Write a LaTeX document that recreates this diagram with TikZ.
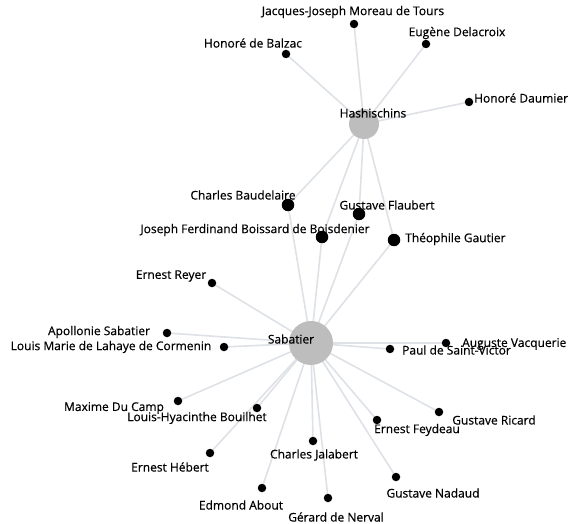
\documentclass[tikz,border=0pt]{standalone}
\usepackage{fontspec}
\setmainfont{Open Sans}
\newfontfamily\labelfont{Open Sans}[FakeBold=0.5]
\usepackage{tikz}
\usetikzlibrary{backgrounds}

\definecolor{linkgray}{HTML}{DEE1E6}
\definecolor{hubgray}{HTML}{BDBDBD}

\begin{document}
\begin{tikzpicture}[
        x=1pt, y=-1pt,
        hub/.style={circle, fill=hubgray, inner sep=0pt},
        person/.style={circle, fill=black, inner sep=0pt, minimum size=8.5pt},
        bigperson/.style={circle, fill=black, inner sep=0pt, minimum size=12.5pt},
        lbl/.style={inner sep=0pt, font=\labelfont\fontsize{12}{13}\selectfont},
        link/.style={draw=linkgray, line width=1.6pt}
    ]
        \useasboundingbox (0,0) rectangle (568,524);

        % grupy
        \node[hub, minimum size=30pt] (hash) at (364,124) {};
        \node[lbl] (hash-l) at (373,113) {Hashischins};
        \node[hub, minimum size=44pt] (sab) at (311,343) {};
        \node[lbl] (sab-l) at (291,339) {Sabatier};

        % tylko Hashischins
        \node[person] (moreau) at (354,24) {};
        \node[lbl] (moreau-l) at (353,12) {Jacques-Joseph Moreau de Tours};
        \node[person] (balzac) at (286,54) {};
        \node[lbl] (balzac-l) at (253,43) {Honoré de Balzac};
        \node[person] (delacroix) at (426,44) {};
        \node[lbl] (delacroix-l) at (457,33) {Eugène Delacroix};
        \node[person] (daumier) at (469,102) {};
        \node[lbl, anchor=west] (daumier-l) at (474,98) {Honoré Daumier};

        % obie grupy
        \node[bigperson] (baudelaire) at (288,205) {};
        \node[lbl] (baudelaire-l) at (243,195) {Charles Baudelaire};
        \node[bigperson] (flaubert) at (359,214) {};
        \node[lbl] (flaubert-l) at (387,205) {Gustave Flaubert};
        \node[bigperson] (boissard) at (322,237) {};
        \node[lbl] (boissard-l) at (255,230) {Joseph Ferdinand Boissard de Boisdenier};
        \node[bigperson] (gautier) at (394,240) {};
        \node[lbl, anchor=west] (gautier-l) at (405,239) {Théophile Gautier};

        % tylko Sabatier
        \node[person] (reyer) at (212,283) {};
        \node[lbl] (reyer-l) at (171,276) {Ernest Reyer};
        \node[person] (apollonie) at (167,333) {};
        \node[lbl] (apollonie-l) at (99,332) {Apollonie Sabatier};
        \node[person] (cormenin) at (224,347) {};
        \node[lbl] (cormenin-l) at (111,347) {Louis Marie de Lahaye de Cormenin};
        \node[person] (ducamp) at (178,401) {};
        \node[lbl] (ducamp-l) at (114,408) {Maxime Du Camp};
        \node[person] (bouilhet) at (257,408) {};
        \node[lbl] (bouilhet-l) at (197,418) {Louis-Hyacinthe Bouilhet};
        \node[person] (vacquerie) at (446,343) {};
        \node[lbl, anchor=west] (vacquerie-l) at (462,344) {Auguste Vacquerie};
        \node[person] (saintvictor) at (390,349) {};
        \node[lbl, anchor=west] (saintvictor-l) at (402,350) {Paul de Saint-Victor};
        \node[person] (ricard) at (439,412) {};
        \node[lbl] (ricard-l) at (494,420) {Gustave Ricard};
        \node[person] (feydeau) at (377,420) {};
        \node[lbl] (feydeau-l) at (417,430) {Ernest Feydeau};
        \node[person] (hebert) at (210,453) {};
        \node[lbl] (hebert-l) at (170,467) {Ernest Hébert};
        \node[person] (jalabert) at (313,441) {};
        \node[lbl] (jalabert-l) at (314,455) {Charles Jalabert};
        \node[person] (about) at (262,488) {};
        \node[lbl] (about-l) at (241,505) {Edmond About};
        \node[person] (nerval) at (328,498) {};
        \node[lbl] (nerval-l) at (336,517) {Gérard de Nerval};
        \node[person] (nadaud) at (396,477) {};
        \node[lbl] (nadaud-l) at (433,493) {Gustave Nadaud};

        % krawedzie pod wezlami
        \begin{pgfonlayer}{background}
            \foreach \p in {moreau, balzac, delacroix, daumier, baudelaire, flaubert, boissard, gautier}
                \draw[link] (hash.center) -- (\p.center);
            \foreach \p in {baudelaire, flaubert, boissard, gautier, reyer, apollonie, cormenin, ducamp, bouilhet, vacquerie, saintvictor, ricard, feydeau, hebert, jalabert, about, nerval, nadaud}
                \draw[link] (sab.center) -- (\p.center);
        \end{pgfonlayer}

    \end{tikzpicture}
\end{document}
